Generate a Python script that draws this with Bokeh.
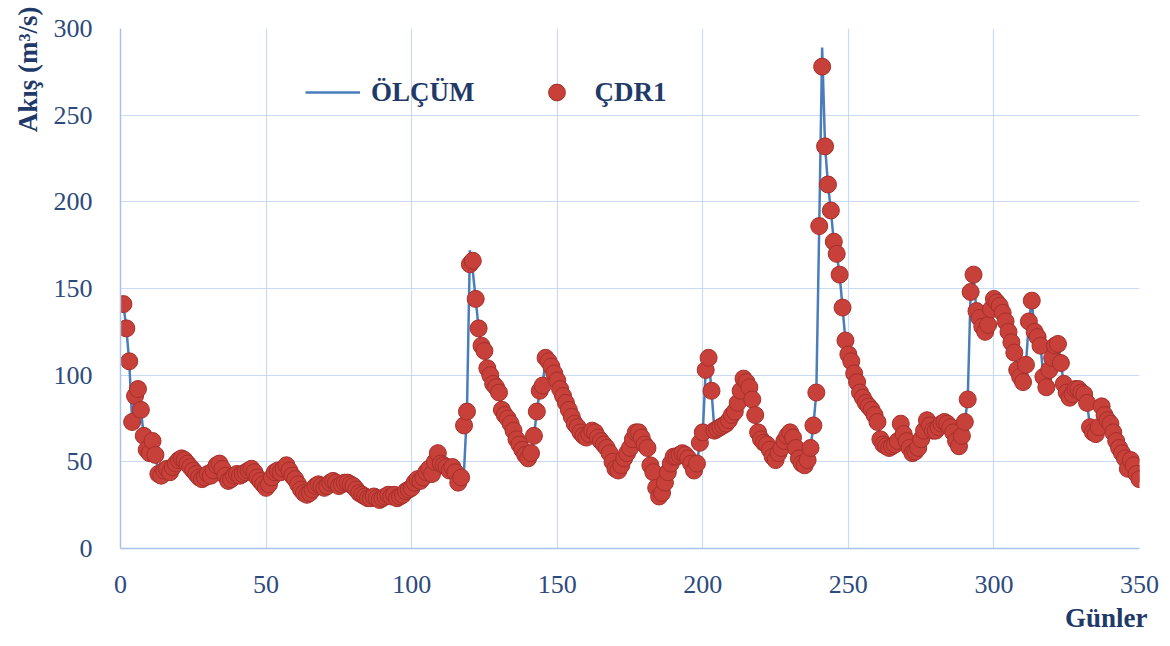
from bokeh.plotting import figure
from bokeh.models import Legend, LegendItem, Title, FixedTicker, ColumnDataSource
from bokeh.embed import file_html
from bokeh.resources import INLINE

# ---- data ----
days = list(range(1, 351))

cdr1 = [
    141, 127, 108, 73, 88, 92, 80, 65, 57, 55,
    62, 54, 43, 42, 45, 46, 44, 47, 49, 51,
    52, 51, 49, 47, 45, 43, 41, 40, 41, 43,
    42, 45, 48, 49, 46, 42, 39, 40, 42, 43,
    42, 43, 44, 45, 46, 44, 41, 39, 37, 35,
    37, 41, 44, 45, 44, 46, 48, 45, 42, 40,
    37, 34, 32, 31, 32, 34, 36, 37, 36, 35,
    36, 38, 39, 38, 36, 37, 38, 38, 37, 36,
    34, 32, 31, 30, 29, 29, 30, 29, 28, 29,
    30, 31, 30, 31, 29, 30, 31, 33, 34, 35,
    38, 40, 39, 41, 44, 46, 43, 50, 55, 49,
    48, 47, 45, 47, 44, 38, 41, 71, 79, 164,
    166, 144, 127, 117, 114, 104, 100, 95, 93, 90,
    80, 77, 75, 72, 68, 63, 60, 57, 54, 52,
    55, 65, 79, 91, 94, 110, 108, 105, 101, 97,
    92, 88, 84, 80, 76, 72, 70, 67, 65, 64,
    66, 68, 67, 64, 62, 60, 58, 55, 50, 46,
    45, 48, 52, 55, 58, 63, 67, 67, 64, 60,
    58, 48, 44, 35, 30, 32, 38, 44, 49, 53,
    53, 54, 55, 54, 52, 49, 45, 49, 61, 67,
    103, 110, 91, 68, 69, 70, 71, 72, 74, 77,
    79, 84, 91, 98, 96, 93, 86, 77, 67, 63,
    61, 60, 57, 53, 51, 55, 58, 62, 65, 67,
    64, 58, 52, 49, 48, 51, 58, 71, 90, 186,
    278, 232, 210, 195, 177, 170, 158, 139, 120, 112,
    108, 101, 96, 90, 87, 84, 82, 80, 77, 73,
    63, 60, 59, 58, 59, 60, 62, 72, 66, 62,
    58, 55, 56, 58, 63, 68, 74, 71, 68, 68,
    70, 72, 73, 72, 70, 67, 62, 59, 65, 73,
    86, 148, 158, 137, 133, 128, 125, 129, 138, 144,
    142, 140, 136, 131, 125, 119, 113, 103, 99, 96,
    106, 131, 143, 125, 122, 117, 99, 93, 103, 110,
    117, 118, 107, 95, 90, 87, 89, 92, 92, 90,
    89, 84, 70, 67, 66, 70, 82, 77, 74, 72,
    67, 62, 58, 55, 52, 46, 51, 48, 43, 40,
]

olcum = [
    141, 127, 108, 73, 88, 92, 80, 65, 57, 55,
    62, 54, 43, 42, 45, 46, 44, 47, 49, 51,
    52, 51, 49, 47, 45, 43, 41, 40, 41, 43,
    42, 45, 48, 49, 46, 42, 39, 40, 42, 43,
    42, 43, 44, 45, 46, 44, 41, 39, 37, 35,
    37, 41, 44, 45, 44, 46, 48, 45, 42, 40,
    37, 34, 32, 31, 32, 34, 36, 37, 36, 35,
    36, 38, 39, 38, 36, 37, 38, 38, 37, 36,
    34, 32, 31, 30, 29, 29, 30, 29, 28, 29,
    30, 31, 30, 31, 29, 30, 31, 33, 34, 35,
    38, 40, 39, 41, 44, 46, 43, 50, 55, 49,
    48, 47, 45, 47, 44, 38, 41, 45, 79, 172,
    160, 144, 127, 117, 114, 104, 100, 95, 93, 90,
    80, 77, 75, 72, 68, 63, 60, 57, 54, 52,
    55, 65, 79, 91, 94, 110, 108, 105, 101, 97,
    92, 88, 84, 80, 76, 72, 70, 67, 65, 64,
    66, 68, 67, 64, 62, 60, 58, 55, 50, 46,
    45, 48, 52, 55, 58, 63, 67, 67, 64, 60,
    58, 48, 44, 35, 30, 32, 38, 44, 49, 53,
    53, 54, 55, 54, 52, 49, 45, 49, 61, 67,
    103, 110, 91, 68, 69, 70, 71, 72, 74, 77,
    79, 84, 91, 98, 96, 93, 86, 77, 67, 63,
    61, 60, 57, 53, 51, 55, 58, 62, 65, 67,
    64, 58, 52, 49, 48, 51, 58, 71, 90, 186,
    289, 232, 210, 195, 177, 170, 158, 139, 120, 112,
    108, 101, 96, 90, 87, 84, 82, 80, 77, 73,
    63, 60, 59, 58, 59, 60, 62, 72, 66, 62,
    58, 55, 56, 58, 63, 68, 74, 71, 68, 68,
    70, 72, 73, 72, 70, 67, 62, 59, 65, 73,
    86, 148, 158, 137, 133, 128, 125, 129, 138, 144,
    142, 140, 136, 131, 125, 119, 113, 103, 99, 96,
    106, 131, 143, 125, 122, 117, 99, 93, 103, 110,
    117, 118, 107, 95, 90, 87, 89, 92, 92, 90,
    89, 84, 70, 67, 66, 70, 82, 77, 74, 72,
    67, 62, 58, 55, 52, 46, 51, 48, 43, 40,
]

x_ticks = [0, 50, 100, 150, 200, 250, 300, 350]
y_ticks = [0, 50, 100, 150, 200, 250, 300]

assert len(cdr1) == len(days) == len(olcum)

# ---- styling ----
SERIF = "Liberation Serif"
TICK_COL = "#2c4a7c"
TITLE_COL = "#1f3a68"
GRID_COL = "#c9dbf2"
AXIS_COL = "#a9c3e8"

p = figure(width=1162, height=644, x_range=(0, 350), y_range=(0, 300),
           output_backend="svg", toolbar_location=None,
           min_border_left=120, min_border_right=23,
           min_border_top=28, min_border_bottom=96)
p.outline_line_color = None
p.background_fill_color = "white"
p.border_fill_color = "white"

src = ColumnDataSource(dict(day=days, cdr1=cdr1, olcum=olcum))

line = p.line("day", "olcum", source=src, line_color="#4a7ebb", line_width=2.5)
sc = p.scatter("day", "cdr1", source=src, size=17, fill_color="#c8403a",
               line_color="#a52f2a", line_width=1)

for ax, ticks in ((p.xaxis, x_ticks), (p.yaxis, y_ticks)):
    ax.ticker = FixedTicker(ticks=ticks)
    ax.axis_line_color = AXIS_COL
    ax.axis_line_width = 1.5
    ax.major_tick_line_color = None
    ax.minor_tick_line_color = None
    ax.major_label_text_font = SERIF
    ax.major_label_text_font_size = "26px"
    ax.major_label_text_color = TICK_COL
p.xaxis.major_label_standoff = 21
p.yaxis.major_label_standoff = 22

p.xgrid.grid_line_color = GRID_COL
p.ygrid.grid_line_color = GRID_COL
p.xgrid.grid_line_width = 1.2
p.ygrid.grid_line_width = 1.2

ytitle = Title(text="Akış (m³/s)", align="right", text_font=SERIF,
               text_font_size="27px", text_font_style="bold",
               text_color=TITLE_COL, offset=-22, standoff=16)
p.add_layout(ytitle, "left")

xtitle = Title(text="Günler", align="right", text_font=SERIF,
               text_font_size="27px", text_font_style="bold",
               text_color=TITLE_COL, offset=-8, standoff=10)
p.add_layout(xtitle, "below")

legend = Legend(items=[LegendItem(label="ÖLÇÜM", renderers=[line]),
                       LegendItem(label="ÇDR1", renderers=[sc])],
                location=(185, 435), orientation="horizontal",
                border_line_color=None, background_fill_alpha=0,
                label_text_font=SERIF, label_text_font_style="bold",
                label_text_font_size="27px", label_text_color=TITLE_COL,
                glyph_width=55, glyph_height=42, spacing=54,
                label_standoff=11, padding=0, margin=0)
p.add_layout(legend)

open("out.html", "w").write(file_html(p, INLINE))
